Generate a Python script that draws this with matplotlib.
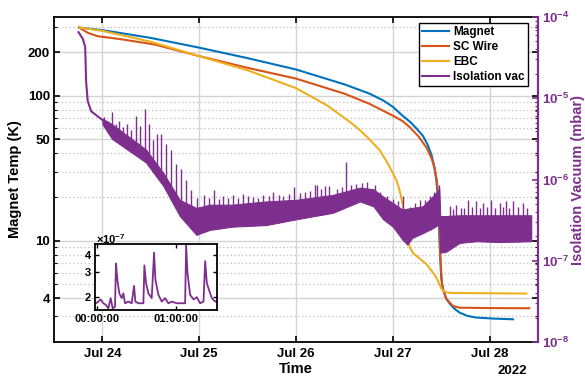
import datetime as dt
import numpy as np
import matplotlib
matplotlib.use("Agg")
import matplotlib.pyplot as plt
import matplotlib.dates as mdates
from matplotlib.ticker import FixedLocator, FuncFormatter, LogLocator, NullFormatter, NullLocator
from matplotlib.lines import Line2D

matplotlib.rcParams["font.family"] = "Liberation Sans"
matplotlib.rcParams["font.weight"] = "bold"
matplotlib.rcParams["mathtext.fontset"] = "custom"
matplotlib.rcParams["mathtext.rm"] = "Liberation Sans:bold"
matplotlib.rcParams["mathtext.it"] = "Liberation Sans:bold:italic"
matplotlib.rcParams["mathtext.bf"] = "Liberation Sans:bold"

BLUE = "#0072BD"
ORANGE = "#D95319"
YELLOW = "#EDB120"
PURPLE = "#7E2F8E"

# temperatures (K), time as day of July 2022
magnet_day = [23.76, 24.0, 24.5, 25.0, 25.5, 26.0, 26.5, 26.76, 26.9, 27.0, 27.1, 27.18, 27.24,
              27.31, 27.36, 27.40, 27.43, 27.45, 27.465, 27.475, 27.485, 27.50, 27.52, 27.55,
              27.59, 27.64, 27.69, 27.77, 27.86, 28.05, 28.24]
magnet_K = [296, 284, 251, 215, 182, 152, 120, 103.5, 93, 84, 73, 66, 60,
            53, 46, 39, 32, 26, 20, 14, 9, 5.5, 4.6, 4.0,
            3.66, 3.38, 3.19, 3.03, 2.95, 2.9, 2.87]

wire_day = [23.76, 23.8, 23.85, 23.95, 24.19, 24.54, 25.0, 25.5, 26.0, 26.5, 26.76, 27.0, 27.1,
            27.175, 27.26, 27.347, 27.4, 27.43, 27.455, 27.47, 27.48, 27.49, 27.51, 27.55, 27.62,
            27.69, 28.0, 28.41]
wire_K = [296, 285, 272, 258, 246, 226, 188, 156, 131.5, 103.5, 88, 73, 67,
          60.8, 53, 44, 37, 32, 26, 21, 14, 8.0, 4.8, 4.0, 3.55,
          3.45, 3.43, 3.42]

ebc_day = [23.76, 24.0, 24.5, 25.0, 25.5, 26.0, 26.32, 26.557, 26.66, 26.76, 26.866, 26.95, 27.04,
           27.08, 27.106, 27.14, 27.175, 27.21, 27.26, 27.347, 27.40, 27.45, 27.5, 27.52, 27.56,
           27.6, 28.38]
ebc_K = [296, 281, 236, 188, 150, 113, 86, 66, 58, 50, 42, 34, 26,
         21, 17, 12.5, 9.0, 8.2, 7.7, 6.9, 6.2, 5.57, 4.7, 4.5, 4.4,
         4.36, 4.32]

# isolation vacuum (mbar): initial pump-down, then noisy band envelope and spikes
vac_start_day = [23.753, 23.797, 23.822, 23.832, 23.848, 23.884, 24.0]
vac_start_p = [6.5e-5, 5.4e-5, 4.3e-5, 1.6e-5, 9.3e-6, 6.9e-6, 5.4e-6]

vac_day = [24.0, 24.1, 24.45, 24.63, 24.8, 24.97, 25.11, 25.34, 25.69, 26.0, 26.38, 26.66, 26.8,
           26.9, 27.0, 27.1, 27.15, 27.2, 27.31, 27.41, 27.48, 27.49, 27.55, 27.69, 27.86, 28.1, 28.43]
vac_hi = [5.6e-6, 4.8e-6, 2.34e-6, 1.2e-6, 5.6e-7, 4.47e-7, 4.9e-7, 4.9e-7, 5.37e-7, 5.62e-7, 6.46e-7,
          7.94e-7, 7.59e-7, 6.17e-7, 5.13e-7, 4.27e-7, 4.37e-7, 4.47e-7, 4.68e-7, 6.17e-7, 7.6e-7,
          3.55e-7, 3.55e-7, 3.63e-7, 3.63e-7, 3.63e-7, 3.63e-7]
vac_lo = [4.8e-6, 3.16e-6, 1.62e-6, 8.3e-7, 3.55e-7, 2.09e-7, 2.4e-7, 2.63e-7, 2.75e-7, 3.24e-7, 3.89e-7,
          5.37e-7, 4.68e-7, 3.24e-7, 2.63e-7, 1.82e-7, 1.58e-7, 1.91e-7, 2.19e-7, 2.51e-7, 2.82e-7,
          1.26e-7, 1.29e-7, 1.66e-7, 1.74e-7, 1.7e-7, 1.74e-7]

spike_day = [24.021, 24.062, 24.103, 24.144, 24.175, 24.216, 24.258, 24.299,
             24.351, 24.392, 24.443, 24.485, 24.526, 24.567, 24.608, 24.66,
             24.711, 24.763, 24.814, 24.866, 24.918, 24.976, 25.052, 25.1,
             25.148, 25.2, 25.25, 25.3, 25.354, 25.4, 25.457, 25.5,
             25.56, 25.61, 25.663, 25.72, 25.766, 25.82, 25.869, 25.93,
             25.983, 26.04, 26.093, 26.14, 26.196, 26.22, 26.26, 26.3,
             26.344, 26.42, 26.47, 26.515, 26.57, 26.619, 26.68, 26.729,
             26.814, 26.87, 26.935, 27.0, 27.055, 27.107, 27.175, 27.23,
             27.278, 27.33, 27.381, 27.43, 27.475, 27.588, 27.62, 27.657,
             27.7, 27.74, 27.777, 27.82, 27.863, 27.9, 27.931, 27.97,
             28.017, 28.06, 28.103, 28.14, 28.172, 28.2, 28.24, 28.29,
             28.343, 28.39]
spike_p = [5.8e-6, 5.2e-6, 6.7e-6, 4.8e-6, 5.2e-6, 4.4e-6, 4.8e-6, 4.1e-6,
           6.0e-6, 4.6e-6, 7.3e-6, 4.8e-6, 3.1e-6, 3.6e-6, 3.6e-6, 2.7e-6,
           2.3e-6, 1.53e-6, 1.33e-6, 1.0e-6, 7.5e-7, 5.9e-7, 6.5e-7, 6.0e-7,
           7.4e-7, 5.8e-7, 6.2e-7, 5.9e-7, 6.5e-7, 6.0e-7, 6.7e-7, 6.2e-7,
           6.1e-7, 6.0e-7, 6.5e-7, 6.3e-7, 7.0e-7, 6.4e-7, 6.3e-7, 6.6e-7,
           8.1e-7, 6.8e-7, 7.0e-7, 7.2e-7, 8.5e-7, 8.5e-7, 7.6e-7, 8.3e-7,
           8.3e-7, 7.6e-7, 8.0e-7, 1.62e-6, 8.6e-7, 8.9e-7, 9.0e-7, 9.3e-7,
           8.5e-7, 7.0e-7, 6.2e-7, 5.8e-7, 5.4e-7, 6.2e-7, 4.6e-7, 5.2e-7,
           5.6e-7, 5.6e-7, 6.2e-7, 7.0e-7, 8.5e-7, 4.7e-7, 4.3e-7, 4.9e-7,
           4.5e-7, 4.4e-7, 5.6e-7, 4.6e-7, 5.4e-7, 4.4e-7, 5.1e-7, 4.6e-7,
           5.6e-7, 4.4e-7, 5.1e-7, 4.6e-7, 5.4e-7, 4.5e-7, 5.4e-7, 4.6e-7,
           5.1e-7, 4.5e-7]

# inset: minutes vs mbar
inset_min = [-0.76, 1.01, 2.78, 4.81, 6.84, 8.61, 10.38, 11.9, 13.67, 14.43, 15.44, 16.96, 18.73, 20.0,
             21.27, 23.8, 26.33, 28.1, 29.11, 31.39, 35.19, 35.95, 37.22, 38.99, 41.52, 43.29, 44.3,
             46.58, 49.11, 51.65, 54.18, 56.71, 60.51, 66.84, 67.6, 68.61, 70.63, 73.16, 75.7, 78.23,
             80.76, 82.03, 83.29, 85.32, 87.09, 89.62, 90.38]
inset_p = [1.79e-7, 1.84e-7, 1.91e-7, 1.79e-7, 1.74e-7, 1.64e-7, 1.95e-7, 1.64e-7, 1.69e-7, 3.47e-7, 2.65e-7,
           2.11e-7, 1.95e-7, 2.11e-7, 1.79e-7, 1.84e-7, 1.79e-7, 2.39e-7, 1.84e-7, 1.79e-7, 1.79e-7, 3.36e-7,
           2.50e-7, 2.11e-7, 1.95e-7, 4.16e-7, 2.65e-7, 2.06e-7, 1.84e-7, 1.95e-7, 1.79e-7, 1.84e-7,
           1.79e-7, 1.79e-7, 4.71e-7, 2.97e-7, 2.06e-7, 1.91e-7, 1.98e-7, 1.79e-7, 1.84e-7, 3.61e-7,
           2.50e-7, 2.18e-7, 1.95e-7, 1.84e-7, 1.84e-7]


def to_dt(days):
    return [dt.datetime(2022, 7, 1) + dt.timedelta(days=d - 1) for d in days]


fig = plt.figure(figsize=(5.85, 3.76), dpi=100)
ax = fig.add_axes([0.0923, 0.0904, 0.8274, 0.8644])
ax2 = ax.twinx()

ax.plot(to_dt(magnet_day), magnet_K, color=BLUE, lw=1.5)
ax.plot(to_dt(wire_day), wire_K, color=ORANGE, lw=1.5)
ax.plot(to_dt(ebc_day), ebc_K, color=YELLOW, lw=1.5)

ax.set_yscale("log")
ax.set_ylim(2, 350)
ax.set_xlim(dt.datetime(2022, 7, 23, 12), dt.datetime(2022, 7, 28, 12))
ax.yaxis.set_major_locator(FixedLocator([4, 10, 50, 100, 200]))
ax.yaxis.set_major_formatter(FuncFormatter(lambda v, p: f"{v:g}"))
ax.yaxis.set_minor_locator(FixedLocator([3, 5, 6, 7, 8, 9, 20, 30, 40, 60, 70, 80, 90, 300]))
ax.yaxis.set_minor_formatter(NullFormatter())
ax.xaxis.set_major_locator(mdates.DayLocator())
ax.xaxis.set_major_formatter(mdates.DateFormatter("%b %d"))
ax.xaxis.set_minor_locator(NullLocator())
ax.grid(which="major", color="#d4d4d4", lw=1.0)
ax.grid(which="minor", axis="y", color="#bdbdbd", ls=(0, (1, 2)), lw=0.9)
ax.tick_params(which="both", direction="in", top=True, right=True, labelsize=9.5)
ax.tick_params(which="major", length=4, width=1.2)
ax.tick_params(which="minor", length=2, width=0.8)
ax.tick_params(axis="y", pad=3)
ax.tick_params(axis="x", pad=4)
for s in ax.spines.values():
    s.set_linewidth(1.3)
ax.set_ylabel("Magnet Temp (K)", fontsize=10.5, fontweight="bold", labelpad=4)
ax.set_xlabel("Time", fontsize=10.5, fontweight="bold", labelpad=2)
fig.text(512 / 585, 1 - 371 / 376, "2022", ha="center", va="center", fontsize=9.5, fontweight="bold")

# isolation vacuum on right axis
ax2.plot(to_dt(vac_start_day), vac_start_p, color=PURPLE, lw=1.5)
ax2.fill_between(to_dt(vac_day), vac_lo, vac_hi, color=PURPLE, lw=0.8)
spike_base = np.interp(spike_day, vac_day, vac_lo)
ax2.vlines(to_dt(spike_day), spike_base, spike_p, color=PURPLE, lw=1.0)
ax2.set_yscale("log")
ax2.set_ylim(1e-8, 1e-4)
ax2.yaxis.set_major_locator(LogLocator(base=10, numticks=10))
ax2.yaxis.set_minor_locator(LogLocator(base=10, subs=range(2, 10), numticks=20))
ax2.yaxis.set_minor_formatter(NullFormatter())
ax2.yaxis.set_major_formatter(FuncFormatter(lambda v, p: r"$10^{%d}$" % round(np.log10(v))))
ax2.tick_params(axis="y", which="both", direction="in", colors=PURPLE, labelsize=9.5, pad=3)
ax2.tick_params(axis="y", which="major", length=4, width=1.2)
ax2.tick_params(axis="y", which="minor", length=2, width=0.8)
for side in ["left", "top", "bottom"]:
    ax2.spines[side].set_visible(False)
ax2.spines["right"].set_color(PURPLE)
ax2.spines["right"].set_linewidth(1.6)
ax2.set_ylabel("Isolation Vacuum (mbar)", color=PURPLE, fontsize=10.5, fontweight="bold", labelpad=1)

handles = [Line2D([], [], color=c, lw=1.5) for c in [BLUE, ORANGE, YELLOW, PURPLE]]
leg = ax2.legend(handles, ["Magnet", "SC Wire", "EBC", "Isolation vac"], loc="upper right",
                 bbox_to_anchor=(528 / 585, 1 - 23 / 376), bbox_transform=fig.transFigure,
                 fontsize=8.5, frameon=True, fancybox=False, framealpha=1, edgecolor="black",
                 borderpad=0.25, labelspacing=0.25, handlelength=2.3, handletextpad=0.35,
                 borderaxespad=0)
leg.get_frame().set_linewidth(1.0)
for t in leg.get_texts():
    t.set_fontweight("bold")

# inset
ins = fig.add_axes([95 / 585, 1 - 310 / 376, 122 / 585, 66 / 376])
ins.plot(inset_min, inset_p, color=PURPLE, lw=1.3)
ins.set_yscale("log")
ins.set_ylim(1.6e-7, 4.8e-7)
ins.set_xlim(-1.5, 91)
ins.yaxis.set_major_locator(FixedLocator([2e-7, 3e-7, 4e-7]))
ins.yaxis.set_major_formatter(FuncFormatter(lambda v, p: f"{v * 1e7:.0f}"))
ins.yaxis.set_minor_locator(NullLocator())
ins.xaxis.set_major_locator(FixedLocator([0, 60]))
ins.xaxis.set_major_formatter(FuncFormatter(lambda v, p: "%02d:00:00" % int(round(v / 60))))
ins.tick_params(which="both", direction="in", top=True, right=True, labelsize=8, length=3, width=1.0, pad=3)
for s in ins.spines.values():
    s.set_linewidth(1.3)
fig.text(96 / 585, 1 - 246 / 376, r"$\times10^{-7}$", ha="left", va="bottom", fontsize=8)

fig.savefig("out.png", dpi=100)
